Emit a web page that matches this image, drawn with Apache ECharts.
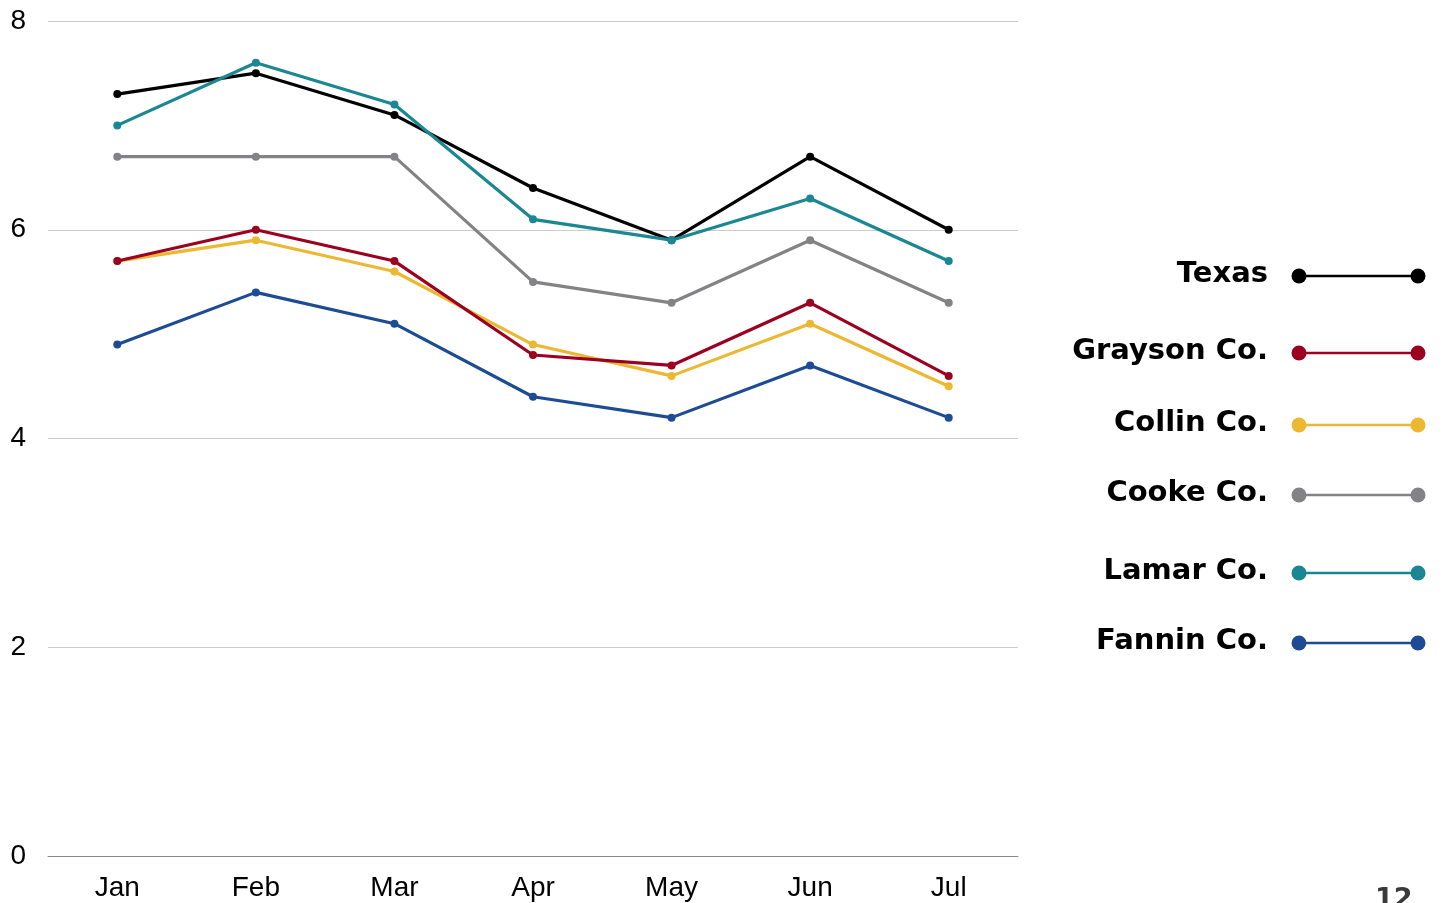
<!DOCTYPE html>
<html>
<head>
<meta charset="utf-8">
<script src="https://cdn.jsdelivr.net/npm/echarts@6/dist/echarts.min.js"></script>
<style>
html,body{margin:0;padding:0;background:#fff;}
#chart{width:1443px;height:903px;}
</style>
</head>
<body>
<div id="chart"></div>
<script>
const months = ['Jan','Feb','Mar','Apr','May','Jun','Jul'];
const seriesNames = ['Texas','Grayson Co.','Collin Co.','Cooke Co.','Lamar Co.','Fannin Co.'];
const texas   = [7.3, 7.5, 7.1, 6.4, 5.9, 6.7, 6.0];
const grayson = [5.7, 6.0, 5.7, 4.8, 4.7, 5.3, 4.6];
const collin  = [5.7, 5.9, 5.6, 4.9, 4.6, 5.1, 4.5];
const cooke   = [6.7, 6.7, 6.7, 5.5, 5.3, 5.9, 5.3];
const lamar   = [7.0, 7.6, 7.2, 6.1, 5.9, 6.3, 5.7];
const fannin  = [4.9, 5.4, 5.1, 4.4, 4.2, 4.7, 4.2];
const yTicks = [0, 2, 4, 6, 8];
const pageNumber = '12';

const colors = ['#000000', '#9B0020', '#ECB731', '#838385', '#1A8792', '#1E4C94'];
const values = [texas, grayson, collin, cooke, lamar, fannin];
// drawing order: back to front like the reference
const drawOrder = [3, 2, 1, 5, 0, 4];
const legendY = [276, 353, 425, 495, 573, 643];

const chart = echarts.init(document.getElementById('chart'), null, {renderer: 'canvas'});

const series = drawOrder.map(i => ({
  name: seriesNames[i],
  type: 'line',
  data: values[i],
  symbol: 'circle',
  symbolSize: 8,
  lineStyle: {width: 3.2, color: colors[i]},
  itemStyle: {color: colors[i]},
  z: 2 + drawOrder.indexOf(i),
  animation: false
}));

const legendFont = '700 29px "DejaVu Sans", sans-serif';
const graphics = [];
seriesNames.forEach((name, i) => {
  const y = legendY[i];
  graphics.push({
    type: 'text', x: 1268, y: y - 2,
    style: {text: name, font: legendFont, fill: '#000', textAlign: 'right', textVerticalAlign: 'middle'}
  });
  graphics.push({
    type: 'line', shape: {x1: 1299, y1: y, x2: 1418, y2: y},
    style: {stroke: colors[i], lineWidth: 2.5}
  });
  graphics.push({type: 'circle', shape: {cx: 1299, cy: y, r: 7.5}, style: {fill: colors[i]}});
  graphics.push({type: 'circle', shape: {cx: 1418, cy: y, r: 7.5}, style: {fill: colors[i]}});
});
graphics.push({
  type: 'text', x: 1375, y: 886,
  style: {text: pageNumber, font: '700 27px "DejaVu Sans", sans-serif', fill: '#3a3a3a', textVerticalAlign: 'top'}
});

chart.setOption({
  animation: false,
  backgroundColor: '#fff',
  grid: {left: 48, right: 425, top: 21, bottom: 47, containLabel: false},
  xAxis: {
    type: 'category',
    data: months,
    boundaryGap: true,
    axisLine: {show: true, lineStyle: {color: '#8a8a8a', width: 1}},
    axisTick: {show: false},
    axisLabel: {color: '#000', fontSize: 28, fontFamily: '"Liberation Sans", Arial, sans-serif', margin: 18}
  },
  yAxis: {
    type: 'value',
    min: yTicks[0],
    max: yTicks[yTicks.length - 1],
    interval: 2,
    axisLine: {show: false},
    axisTick: {show: false},
    splitLine: {lineStyle: {color: '#cccccc', width: 1}},
    axisLabel: {color: '#000', fontSize: 28, fontFamily: '"Liberation Sans", Arial, sans-serif', margin: 22, padding: [3, 0, 0, 0]}
  },
  series: series,
  graphic: graphics
});
</script>
</body>
</html>
